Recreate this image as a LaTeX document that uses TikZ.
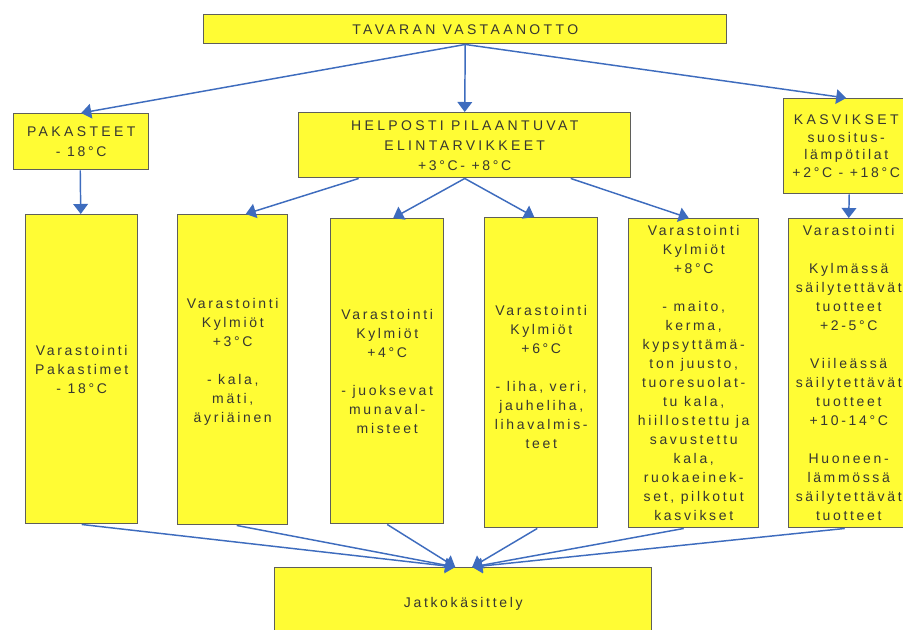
\documentclass[tikz,border=0pt]{standalone}
\usepackage{fontspec}
\setmainfont{Liberation Sans}[LetterSpace=19]
\newfontfamily\capsf{Liberation Sans}[LetterSpace=24]
\usetikzlibrary{arrows.meta}
\newdimen\pxu \pxu=0.75pt
\definecolor{boxyellow}{RGB}{255,252,52}
\definecolor{boxedge}{RGB}{95,95,90}
\definecolor{txt}{RGB}{55,55,48}
\definecolor{arrowblue}{RGB}{62,108,190}
\tikzset{
  box/.style={draw=boxedge, line width=1.1pt, fill=boxyellow, inner sep=0pt,
    anchor=north west, align=center, text=txt,
    font=\fontsize{10.5pt}{14.25pt}\selectfont},
  conn/.style={draw=arrowblue, line width=1.1pt,
    -{Triangle[width=11pt,length=7.5pt]}},
}
\begin{document}
\begin{tikzpicture}[x=0.75pt,y=-0.75pt]
\useasboundingbox (0,0) rectangle (903,629);
\clip (0,0) rectangle (903,629);
\fill[white] (0,0) rectangle (903,629);

\node[box, minimum width=523\pxu, minimum height=29\pxu] (top) at (203,14) {\capsf TAVARAN VASTAANOTTO};
\node[box, minimum width=135\pxu, minimum height=56\pxu, font=\fontsize{10.5pt}{15pt}\selectfont] (pak) at (13,113) {{\capsf PAKASTEET}\\- 18°C};
\node[box, minimum width=332\pxu, minimum height=65\pxu, font=\fontsize{10.5pt}{15pt}\selectfont] (hel) at (298,112) {\capsf HELPOSTI PILAANTUVAT\\\capsf ELINTARVIKKEET\\+3°C- +8°C};
\node[box, minimum width=125\pxu, minimum height=95\pxu, font=\fontsize{10.5pt}{13.2pt}\selectfont] (kas) at (783,98) {{\capsf KASVIKSET}\\suositus-\\lämpötilat\\+2°C - +18°C};

\node[box, minimum width=112\pxu, minimum height=309\pxu] (b1) at (25,214) {Varastointi\\Pakastimet\\- 18°C};
\node[box, minimum width=110\pxu, minimum height=310\pxu] (b2) at (177,214) {Varastointi\\Kylmiöt\\+3°C\\~\\- kala,\\mäti,\\äyriäinen\\~};
\node[box, minimum width=113\pxu, minimum height=305\pxu] (b3) at (330,218) {Varastointi\\Kylmiöt\\+4°C\\~\\- juoksevat\\munaval-\\misteet};
\node[box, minimum width=113\pxu, minimum height=310\pxu] (b4) at (484,217) {~\\Varastointi\\Kylmiöt\\+6°C\\~\\- liha, veri,\\jauheliha,\\lihavalmis-\\teet};
\node[box, minimum width=130\pxu, minimum height=309\pxu] (b5) at (628,218) {Varastointi\\Kylmiöt\\+8°C\\~\\- maito,\\kerma,\\kypsyttämä-\\ton juusto,\\tuoresuolat-\\tu kala,\\hiillostettu ja\\savustettu\\kala,\\ruokaeinek-\\set, pilkotut\\kasvikset};
\node[box, minimum width=120\pxu, minimum height=309\pxu] (b6) at (788,218) {Varastointi\\~\\Kylmässä\\säilytettävät\\tuotteet\\+2-5°C\\~\\Viileässä\\säilytettävät\\tuotteet\\+10-14°C\\~\\Huoneen-\\lämmössä\\säilytettävät\\tuotteet};

\node[box, minimum width=377\pxu, minimum height=72\pxu] (jat) at (274,567) {Jatkokäsittely};

\coordinate (jatL) at ([xshift=-8\pxu]jat.north);
\coordinate (jatR) at ([xshift=9\pxu]jat.north);

\draw[conn] (top.south) -- (pak.north);
\draw[conn] (top.south) -- (hel.north);
\draw[conn] (top.south) -- (kas.north);
\draw[conn] ([xshift=-1\pxu]pak.south) -- ([xshift=-1\pxu]b1.north);
\draw[conn] ([xshift=-106\pxu]hel.south) -- ([xshift=13\pxu]b2.north);
\draw[conn] (hel.south) -- ([xshift=6\pxu]b3.north);
\draw[conn] (hel.south) -- ([xshift=-7\pxu]b4.north);
\draw[conn] ([xshift=106\pxu]hel.south) -- ([xshift=-5\pxu]b5.north);
\draw[conn] ([xshift=3\pxu]kas.south) -- (b6.north);

\draw[conn] (b1.south) -- (jatL);
\draw[conn] ([xshift=4\pxu]b2.south) -- (jatL);
\draw[conn] (b3.south) -- (jatL);
\draw[conn] ([xshift=-4\pxu]b4.south) -- (jatR);
\draw[conn] ([xshift=-10\pxu]b5.south) -- (jatR);
\draw[conn] ([xshift=-4\pxu]b6.south) -- (jatR);
\end{tikzpicture}
\end{document}
